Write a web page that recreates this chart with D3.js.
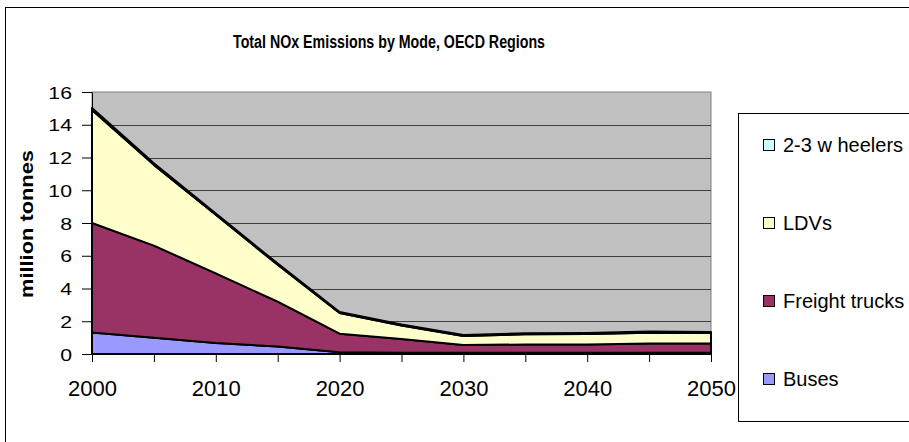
<!DOCTYPE html>
<html>
<head>
<meta charset="utf-8">
<script src="https://cdn.jsdelivr.net/npm/d3@7"></script>
<style>
  body { margin: 0; background: #fff; }
  svg { display: block; }
  text { font-family: Arial, "Liberation Sans", sans-serif; fill: #000; }
</style>
</head>
<body>
<svg id="chart" width="909" height="442"></svg>
<script>
// Emissions by transport mode, million tonnes, every five years
const years = [2000, 2005, 2010, 2015, 2020, 2025, 2030, 2035, 2040, 2045, 2050];
const buses = [1.32, 0.99, 0.67, 0.46, 0.10, 0.08, 0.08, 0.08, 0.08, 0.08, 0.08];
const freightTrucks = [6.68, 5.63, 4.25, 2.74, 1.14, 0.84, 0.47, 0.50, 0.50, 0.56, 0.56];
const ldvs = [6.90, 4.93, 3.58, 2.25, 1.26, 0.82, 0.55, 0.62, 0.64, 0.66, 0.64];
const wheelers23 = [0.12, 0.10, 0.08, 0.07, 0.06, 0.06, 0.06, 0.06, 0.06, 0.07, 0.07];

const seriesKeys = ["buses", "freight", "ldvs", "wheelers"];
const seriesNames = ["Buses", "Freight trucks", "LDVs", "2-3 w heelers"];
const seriesColors = ["#9999FF", "#993366", "#FFFFCC", "#CCFFFF"];

const yTicks = [0, 2, 4, 6, 8, 10, 12, 14, 16];
const xTickLabels = [2000, 2010, 2020, 2030, 2040, 2050];

const titleText = "Total NOx Emissions by Mode, OECD Regions";
const yTitleText = "million tonnes";

// Table for the stack layout
const rows = years.map((yr, i) => ({
  year: yr,
  buses: buses[i],
  freight: freightTrucks[i],
  ldvs: ldvs[i],
  wheelers: wheelers23[i]
}));

const svg = d3.select("#chart");

const plot = { left: 92, right: 711, top: 92, bottom: 354 };

const x = d3.scaleLinear().domain([2000, 2050]).range([plot.left, plot.right]);
const y = d3.scaleLinear().domain([0, 16]).range([plot.bottom, plot.top]);

// Outer chart frame
svg.append("rect")
  .attr("x", 5.5).attr("y", 7.5)
  .attr("width", 1000).attr("height", 1000)
  .attr("fill", "#fff").attr("stroke", "#000").attr("stroke-width", 1);

// Title
svg.append("text")
  .attr("x", 389).attr("y", 48)
  .attr("text-anchor", "middle")
  .attr("font-size", 18).attr("font-weight", "bold")
  .attr("textLength", 312).attr("lengthAdjust", "spacingAndGlyphs")
  .text(titleText);

// Plot background
svg.append("rect")
  .attr("x", plot.left).attr("y", plot.top)
  .attr("width", plot.right - plot.left).attr("height", plot.bottom - plot.top)
  .attr("fill", "#C0C0C0").attr("stroke", "#808080").attr("stroke-width", 1);

// Horizontal gridlines
svg.append("g")
  .selectAll("line")
  .data(yTicks.filter(d => d > 0 && d < 16))
  .join("line")
  .attr("x1", plot.left).attr("x2", plot.right)
  .attr("y1", d => Math.round(y(d)) + 0.5).attr("y2", d => Math.round(y(d)) + 0.5)
  .attr("stroke", "#404040").attr("stroke-width", 1);

// Stacked areas
const stack = d3.stack().keys(seriesKeys);
const layers = stack(rows);

const area = d3.area()
  .x(d => x(d.data.year))
  .y0(d => y(d[0]))
  .y1(d => y(d[1]));

svg.append("g")
  .selectAll("path")
  .data(layers)
  .join("path")
  .attr("d", d => area(d) + "Z")
  .attr("fill", (d, i) => seriesColors[i])
  .attr("stroke", "#000")
  .attr("stroke-width", 2)
  .attr("stroke-linejoin", "round");

// Y axis
const yAxis = svg.append("g")
  .attr("transform", `translate(${plot.left},0)`)
  .call(d3.axisLeft(y).tickValues(yTicks).tickSize(10).tickSizeOuter(0).tickFormat(d3.format("d")));
yAxis.select(".domain").attr("stroke", "#000");
yAxis.selectAll(".tick line").attr("stroke", "#000");
yAxis.selectAll(".tick text")
  .attr("x", 0).attr("dy", "0.36em")
  .attr("font-size", 17)
  .attr("font-family", "Arial, 'Liberation Sans', sans-serif")
  .attr("transform", "translate(-20,0) scale(1.25,1)");

// X axis
const xAxis = svg.append("g")
  .attr("transform", `translate(0,${plot.bottom})`)
  .call(d3.axisBottom(x).tickValues(years).tickSize(8).tickSizeOuter(0)
    .tickFormat(d => xTickLabels.includes(d) ? String(d) : ""));
xAxis.select(".domain").attr("stroke", "#000");
xAxis.selectAll(".tick line").attr("stroke", "#000");
xAxis.selectAll(".tick text")
  .attr("y", 26).attr("dy", "0.71em")
  .attr("font-size", 22)
  .attr("font-family", "Arial, 'Liberation Sans', sans-serif");

// Y axis title
svg.append("text")
  .attr("transform", "translate(33,224) rotate(-90)")
  .attr("text-anchor", "middle")
  .attr("font-size", 18).attr("font-weight", "bold")
  .attr("textLength", 148).attr("lengthAdjust", "spacingAndGlyphs")
  .text(yTitleText);

// Legend
const legendBox = { x: 738, y: 113, w: 200, h: 308 };
svg.append("rect")
  .attr("x", legendBox.x + 0.5).attr("y", legendBox.y + 0.5)
  .attr("width", legendBox.w).attr("height", legendBox.h)
  .attr("fill", "#fff").attr("stroke", "#000").attr("stroke-width", 1);

const legendOrder = [3, 2, 1, 0];
const legendY = d3.scalePoint().domain(legendOrder).range([145, 379]);

const legend = svg.append("g")
  .selectAll("g")
  .data(legendOrder)
  .join("g")
  .attr("transform", i => `translate(763,${legendY(i)})`);

legend.append("rect")
  .attr("x", 0.5).attr("y", -5.5)
  .attr("width", 11).attr("height", 11)
  .attr("fill", i => seriesColors[i])
  .attr("stroke", "#000").attr("stroke-width", 1);

legend.append("text")
  .attr("x", 20).attr("y", 0).attr("dy", "0.36em")
  .attr("font-size", 20)
  .text(i => seriesNames[i]);
</script>
</body>
</html>
